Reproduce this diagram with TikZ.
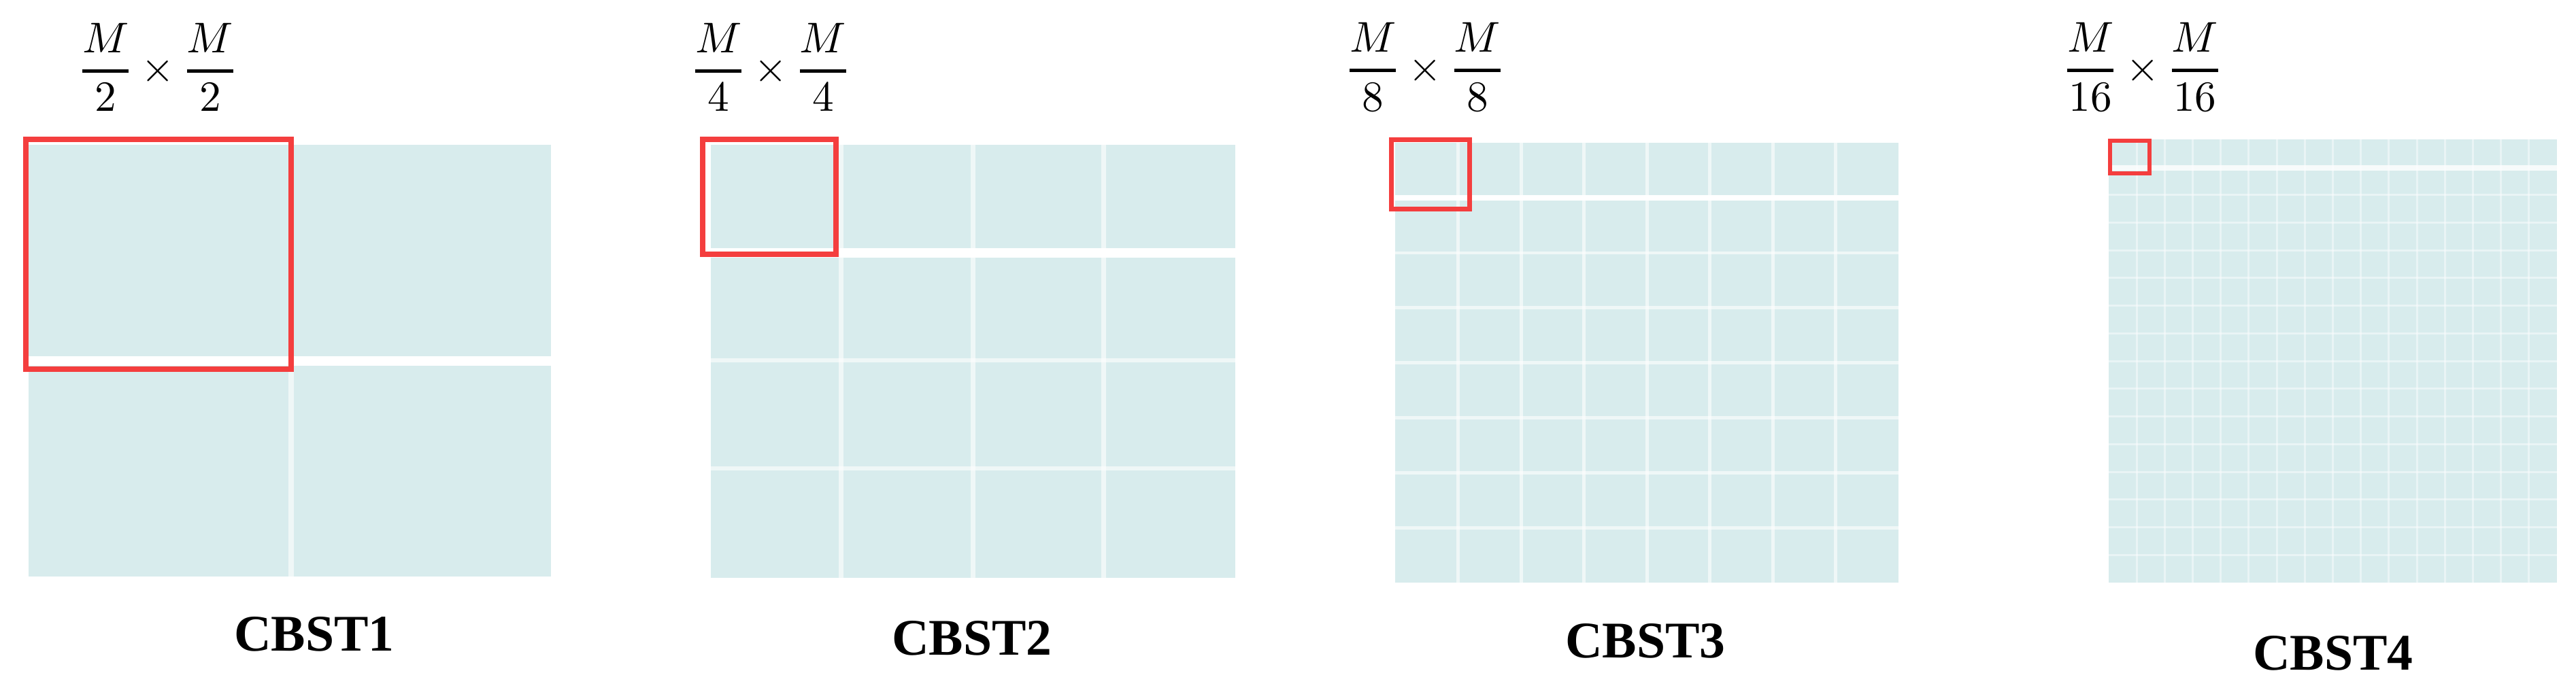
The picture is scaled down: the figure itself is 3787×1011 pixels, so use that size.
\documentclass[tikz,border=0pt]{standalone}
\usepackage{amsmath}
\usepackage{fontspec}
\usepackage{unicode-math}
\setmainfont{Liberation Serif}
\setmathfont{Latin Modern Math}
\definecolor{cellc}{RGB}{216,236,237}
\definecolor{redc}{RGB}{244,62,62}
\tikzset{
  cellfill/.style={fill=cellc},
  gapline/.style={draw=white, draw opacity=0.6},
  thickgap/.style={draw=white},
  redbox/.style={draw=redc, line width=0.08cm},
  fraclbl/.style={inner sep=0pt, font=\fontsize{18}{20}\selectfont},
  namelbl/.style={inner sep=0pt, anchor=base, font=\fontsize{21.5}{24}\selectfont\bfseries}
}
\newcommand{\myfr}[1]{\genfrac{}{}{1.4pt}{0}{M}{#1}}
\begin{document}
\begin{tikzpicture}[x=0.01cm,y=-0.01cm]
\useasboundingbox (0,0) rectangle (3787,1011);

% ---------- panel 1 ----------
\fill[cellfill] (42,213) rectangle (810,848);
\draw[gapline, line width=0.08cm] (428,213) -- (428,848);
\draw[thickgap, line width=0.14cm] (42,531) -- (810,531);
\draw[redbox] (38,205) rectangle (428,543);
\node[fraclbl] (f1) at (232,99) {$\myfr{2}\times\myfr{2}$};
\node[namelbl] (t1) at (462,957) {CBST1};

% ---------- panel 2 ----------
\fill[cellfill] (1045,213) rectangle (1816,850);
\foreach \x in {1236,1430,1622} \draw[gapline, line width=0.07cm] (\x,213) -- (\x,850);
\foreach \y in {530,689} \draw[gapline, line width=0.06cm] (1045,\y) -- (1816,\y);
\draw[thickgap, line width=0.14cm] (1045,372) -- (1816,372);
\draw[redbox] (1033,205) rectangle (1229,374);
\node[fraclbl] (f2) at (1133,99) {$\myfr{4}\times\myfr{4}$};
\node[namelbl] (t2) at (1429,963) {CBST2};

% ---------- panel 3 ----------
\fill[cellfill] (2051,210) rectangle (2791,857);
\foreach \k in {1,...,7} \draw[gapline, line width=0.05cm] ({2051+\k*92.5},210) -- ({2051+\k*92.5},857);
\foreach \k in {2,...,7} \draw[gapline, line width=0.045cm] (2051,{210+\k*80.9}) -- (2791,{210+\k*80.9});
\draw[thickgap, line width=0.08cm] (2051,291) -- (2791,291);
\draw[redbox, line width=0.07cm] (2045,205) rectangle (2160,307);
\node[fraclbl] (f3) at (2095,99) {$\myfr{8}\times\myfr{8}$};
\node[namelbl] (t3) at (2419,967) {CBST3};

% ---------- panel 4 ----------
\fill[cellfill] (3100,205) rectangle (3759,857);
\foreach \k in {1,...,15} \draw[gapline, draw opacity=0.45, line width=0.03cm] ({3100+\k*41.19},205) -- ({3100+\k*41.19},857);
\foreach \k in {2,...,15} \draw[gapline, draw opacity=0.45, line width=0.03cm] (3100,{205+\k*40.75}) -- (3759,{205+\k*40.75});
\draw[thickgap, draw opacity=0.8, line width=0.08cm] (3100,247) -- (3759,247);
\draw[redbox, line width=0.06cm] (3102,207) rectangle (3160,255);
\node[fraclbl] (f4) at (3150,99) {$\myfr{16}\times\myfr{16}$};
\node[namelbl] (t4) at (3430,985) {CBST4};
\end{tikzpicture}
\end{document}
